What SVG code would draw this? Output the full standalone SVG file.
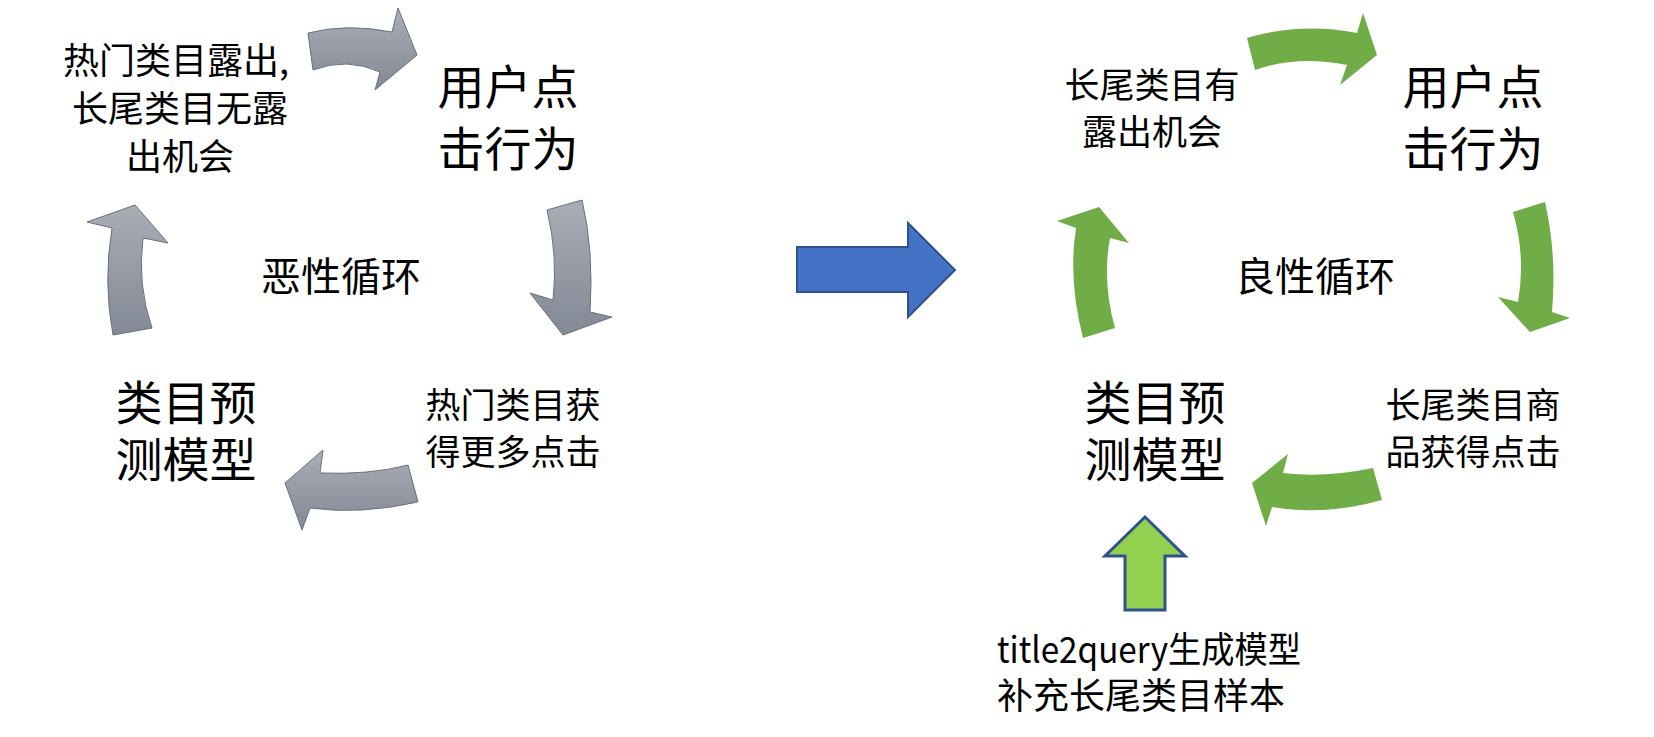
<svg xmlns="http://www.w3.org/2000/svg" width="1654" height="737" viewBox="0 0 1654 737">
<defs>
<linearGradient id="gray" x1="0" y1="0" x2="0" y2="1">
<stop offset="0" stop-color="#a9adb6"/>
<stop offset="1" stop-color="#838995"/>
</linearGradient>
<style>
.t{font-family:"Noto Sans CJK SC","Liberation Sans",sans-serif;fill:#000;text-anchor:middle}
.l{font-family:"Noto Sans CJK SC","Liberation Sans",sans-serif;fill:#000}
.g{fill:url(#gray);stroke:#6b6f78;stroke-width:1}
.gr{fill:#70ad47}
</style>
</defs>
<rect width="1654" height="737" fill="#fff"/>
<g id="connectors">
<path class="g" d="M308,33 Q347,23 392,32 L398,8 L417,55 L375,90 L380,72 Q347,57 313,70 Z"/>
<path class="g" d="M547,210 Q558,255 553,300 L530,293 L563,335 L612,317 L590,312 Q594,250 582,200 Z"/>
<path class="g" d="M285,483 L323,450 L320,473 Q370,475 408,465 L418,502 Q360,515 310,508 L302,530 Z"/>
<path class="g" d="M135,205 L87,222 L112,228 Q103,282 113,335 L152,328 Q137,285 143,238 L168,243 Z"/>
<path d="M797,247 L908,247 L908,223 L955,270 L908,317 L908,292 L797,292 Z" fill="#4472c4" stroke="#2f528f" stroke-width="2"/>
<path class="gr" d="M1247,38 Q1300,22 1357,33 L1363,13 L1377,55 L1340,85 L1347,65 Q1297,55 1255,70 Z"/>
<path class="gr" d="M1513,212 Q1526,257 1518,302 L1498,297 L1530,332 L1570,318 L1552,312 Q1557,255 1545,202 Z"/>
<path class="gr" d="M1252,483 L1288,454 L1283,473 Q1325,478 1373,468 L1382,500 Q1325,516 1272,507 L1266,526 Z"/>
<path class="gr" d="M1099,207 L1057,221 L1076,228 Q1068,280 1083,338 L1115,328 Q1102,282 1110,238 L1129,243 Z"/>
<path d="M1145,517 L1185,556 L1165,556 L1165,610 L1125,610 L1125,556 L1105,556 Z" fill="#92d050" stroke="#2f528f" stroke-width="3"/>
</g>
<g id="node-left-exposure">
<text class="t" font-size="36" x="176" y="74">热门类目露出,</text>
<text class="t" font-size="36" x="180" y="122">长尾类目无露</text>
<text class="t" font-size="36" x="180" y="170">出机会</text>
</g>
<g id="node-left-click">
<text class="t" font-size="47" x="508" y="104">用户点</text>
<text class="t" font-size="47" x="508" y="166">击行为</text>
</g>
<g id="node-left-cycle">
<text class="t" font-size="40" x="341" y="291">恶性循环</text>
</g>
<g id="node-left-model">
<text class="t" font-size="47" x="186" y="420">类目预</text>
<text class="t" font-size="47" x="186" y="477">测模型</text>
</g>
<g id="node-left-hot">
<text class="t" font-size="35" x="513" y="418">热门类目获</text>
<text class="t" font-size="35" x="513" y="465">得更多点击</text>
</g>
<g id="node-right-exposure">
<text class="t" font-size="35" x="1152" y="98">长尾类目有</text>
<text class="t" font-size="35" x="1152" y="145">露出机会</text>
</g>
<g id="node-right-click">
<text class="t" font-size="47" x="1473" y="104">用户点</text>
<text class="t" font-size="47" x="1473" y="166">击行为</text>
</g>
<g id="node-right-cycle">
<text class="t" font-size="40" x="1315" y="291">良性循环</text>
</g>
<g id="node-right-model">
<text class="t" font-size="47" x="1155" y="420">类目预</text>
<text class="t" font-size="47" x="1155" y="477">测模型</text>
</g>
<g id="node-right-longtail">
<text class="t" font-size="35" x="1473" y="418">长尾类目商</text>
<text class="t" font-size="35" x="1473" y="465">品获得点击</text>
</g>
<g id="node-title2query">
<text class="l" font-size="36" x="997" y="663" textLength="304" lengthAdjust="spacingAndGlyphs">title2query生成模型</text>
<text class="l" font-size="36" x="997" y="709">补充长尾类目样本</text>
</g>
</svg>
